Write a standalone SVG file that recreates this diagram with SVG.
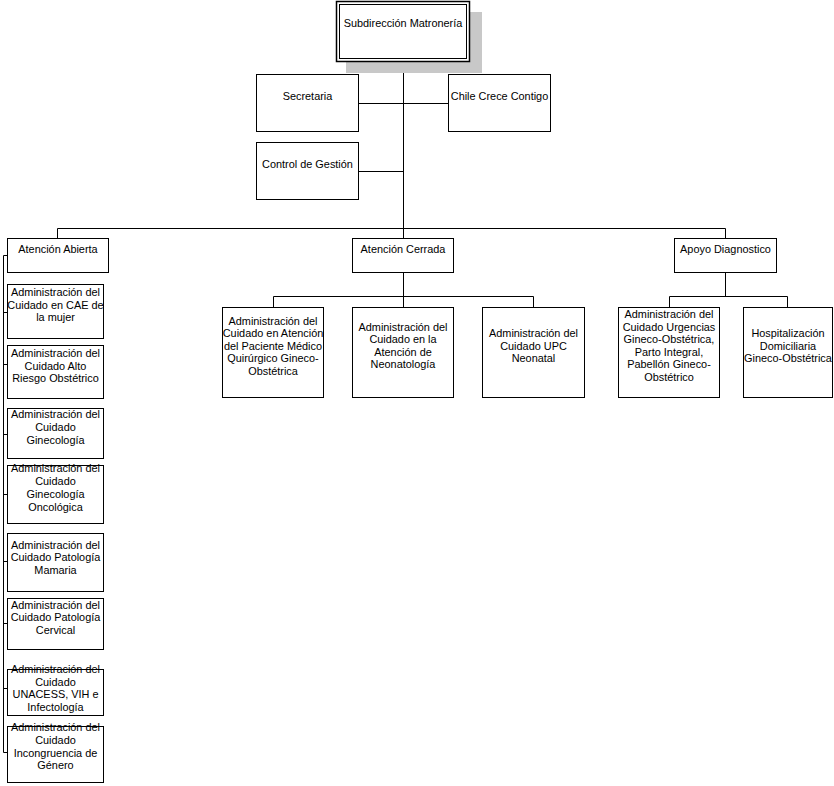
<svg xmlns="http://www.w3.org/2000/svg" width="834" height="786" viewBox="0 0 834 786">
<style>
  .box { fill: #ffffff; stroke: #000000; stroke-width: 1; }
  .ln { fill: none; stroke: #000000; stroke-width: 1; }
  text { font-family: "Liberation Sans", Arial, sans-serif; font-size: 10.9px; fill: #000000; text-anchor: middle; }
</style>
<rect x="0" y="0" width="834" height="786" fill="#ffffff"/>

<g id="connectors" class="ln">
  <path class="ln" d="M403.5 61 V238.5"/>
  <path class="ln" d="M358.5 103.5 H448.5"/>
  <path class="ln" d="M358.5 171.5 H403.5"/>
  <path class="ln" d="M57.5 228.5 H725.5"/>
  <path class="ln" d="M57.5 228.5 V238.5"/>
  <path class="ln" d="M725.5 228.5 V238.5"/>
  <path class="ln" d="M403.5 272.5 V296.5 M273.5 296.5 H533.5 M273.5 296.5 V307 M403.5 296.5 V307 M533.5 296.5 V307"/>
  <path class="ln" d="M725.5 272.5 V296.5 M669.5 296.5 H787.5 M669.5 296.5 V307 M787.5 296.5 V307"/>
  <path class="ln" d="M3.5 255.5 V752.5 M3.5 255.5 H7.5 M3.5 312.5 H7.5 M3.5 364.5 H7.5 M3.5 434.5 H7.5 M3.5 494.5 H7.5 M3.5 561.5 H7.5 M3.5 623.5 H7.5 M3.5 688.5 H7.5 M3.5 752.5 H7.5"/>
</g>

<g id="subdireccion">
  <rect x="346" y="12" width="136" height="61" fill="#c8c8c8"/>
  <rect x="336.5" y="1.5" width="133" height="60" fill="#ffffff" stroke="#000000" stroke-width="1.5"/>
  <rect x="339.5" y="4.5" width="127" height="54" fill="none" stroke="#000000" stroke-width="1"/>
  <text x="403" y="27">Subdirección Matronería</text>
</g>

<g id="secretaria">
  <rect class="box" x="256.5" y="74.5" width="102" height="57"/>
  <text x="307.5" y="100">Secretaria</text>
</g>
<g id="chile-crece">
  <rect class="box" x="448.5" y="74.5" width="102" height="57"/>
  <text x="499.5" y="100">Chile Crece Contigo</text>
</g>
<g id="control-gestion">
  <rect class="box" x="256.5" y="142.5" width="102" height="57"/>
  <text x="307.5" y="168">Control de Gestión</text>
</g>

<g id="atencion-abierta">
  <rect class="box" x="7.5" y="238.5" width="101" height="34"/>
  <text x="58" y="253">Atención Abierta</text>
</g>
<g id="atencion-cerrada">
  <rect class="box" x="352.5" y="238.5" width="101" height="34"/>
  <text x="403" y="253">Atención Cerrada</text>
</g>
<g id="apoyo-diagnostico">
  <rect class="box" x="674.5" y="238.5" width="102" height="34"/>
  <text x="725.5" y="253">Apoyo Diagnostico</text>
</g>

<g id="aa-cae">
  <rect class="box" x="7.5" y="284.5" width="96" height="54"/>
  <text><tspan x="55.5" y="296">Administración del</tspan><tspan x="55.5" y="308.5">Cuidado en CAE de</tspan><tspan x="55.5" y="321">la mujer</tspan></text>
</g>
<g id="aa-alto-riesgo">
  <rect class="box" x="7.5" y="345.5" width="96" height="53"/>
  <text><tspan x="55.5" y="357">Administración del</tspan><tspan x="55.5" y="369.5">Cuidado Alto</tspan><tspan x="55.5" y="382">Riesgo Obstétrico</tspan></text>
</g>
<g id="aa-ginecologia">
  <rect class="box" x="7.5" y="408.5" width="96" height="50"/>
  <text><tspan x="55.5" y="418">Administración del</tspan><tspan x="55.5" y="431">Cuidado</tspan><tspan x="55.5" y="444">Ginecología</tspan></text>
</g>
<g id="aa-gineco-onco">
  <rect class="box" x="7.5" y="465.5" width="96" height="58"/>
  <text><tspan x="55.5" y="471.5">Administración del</tspan><tspan x="55.5" y="484.5">Cuidado</tspan><tspan x="55.5" y="497.5">Ginecología</tspan><tspan x="55.5" y="510.5">Oncológica</tspan></text>
</g>
<g id="aa-mamaria">
  <rect class="box" x="7.5" y="533.5" width="96" height="58"/>
  <text><tspan x="55.5" y="548.5">Administración del</tspan><tspan x="55.5" y="561">Cuidado Patología</tspan><tspan x="55.5" y="573.5">Mamaria</tspan></text>
</g>
<g id="aa-cervical">
  <rect class="box" x="7.5" y="598.5" width="96" height="51"/>
  <text><tspan x="55.5" y="609">Administración del</tspan><tspan x="55.5" y="621">Cuidado Patología</tspan><tspan x="55.5" y="633.5">Cervical</tspan></text>
</g>
<g id="aa-unacess">
  <rect class="box" x="7.5" y="669.5" width="96" height="46"/>
  <text><tspan x="55.5" y="673">Administración del</tspan><tspan x="55.5" y="685.5">Cuidado</tspan><tspan x="55.5" y="698">UNACESS, VIH e</tspan><tspan x="55.5" y="710.5">Infectología</tspan></text>
</g>
<g id="aa-genero">
  <rect class="box" x="7.5" y="726.5" width="96" height="56"/>
  <text><tspan x="55.5" y="731">Administración del</tspan><tspan x="55.5" y="743.5">Cuidado</tspan><tspan x="55.5" y="756.5">Incongruencia de</tspan><tspan x="55.5" y="769">Género</tspan></text>
</g>

<g id="ac-medico-quirurgico">
  <rect class="box" x="222.5" y="307.5" width="101" height="90"/>
  <text><tspan x="273" y="324.5">Administración del</tspan><tspan x="273" y="337">Cuidado en Atención</tspan><tspan x="273" y="349.5">del Paciente Médico</tspan><tspan x="273" y="362">Quirúrgico Gineco-</tspan><tspan x="273" y="374.5">Obstétrica</tspan></text>
</g>
<g id="ac-neonatologia">
  <rect class="box" x="352.5" y="307.5" width="101" height="90"/>
  <text><tspan x="403" y="330.75">Administración del</tspan><tspan x="403" y="343.25">Cuidado en la</tspan><tspan x="403" y="355.75">Atención de</tspan><tspan x="403" y="368.25">Neonatología</tspan></text>
</g>
<g id="ac-upc-neonatal">
  <rect class="box" x="482.5" y="307.5" width="102" height="90"/>
  <text><tspan x="533.5" y="337">Administración del</tspan><tspan x="533.5" y="349.5">Cuidado UPC</tspan><tspan x="533.5" y="362">Neonatal</tspan></text>
</g>

<g id="ad-urgencias">
  <rect class="box" x="618.5" y="307.5" width="101" height="90"/>
  <text><tspan x="669" y="318.25">Administración del</tspan><tspan x="669" y="330.75">Cuidado Urgencias</tspan><tspan x="669" y="343.25">Gineco-Obstétrica,</tspan><tspan x="669" y="355.75">Parto Integral,</tspan><tspan x="669" y="368.25">Pabellón Gineco-</tspan><tspan x="669" y="380.75">Obstétrico</tspan></text>
</g>
<g id="ad-hospitalizacion">
  <rect class="box" x="743.5" y="307.5" width="89" height="90"/>
  <text><tspan x="788" y="337">Hospitalización</tspan><tspan x="788" y="349.5">Domiciliaria</tspan><tspan x="788" y="362">Gineco-Obstétrica</tspan></text>
</g>
</svg>
